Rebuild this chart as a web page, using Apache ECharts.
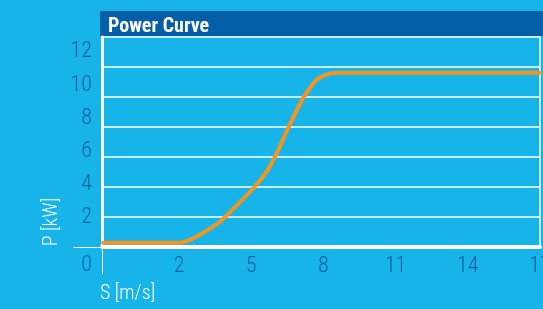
<!DOCTYPE html>
<html>
<head>
<meta charset="utf-8">
<script src="https://cdn.jsdelivr.net/npm/echarts@6/dist/echarts.min.js"></script>
<style>
  html, body { margin: 0; padding: 0; background: #17b4e9; }
  #chart { width: 543px; height: 309px; }
</style>
</head>
<body>
<div id="chart"></div>
<script>
// wind speed (m/s) and power (kW)
var windSpeed = [-1.15, 2.0, 2.5, 3.0, 3.7, 4.4, 5.1, 5.7, 6.1, 6.5, 7.15, 7.7, 8.15, 8.6, 17.1];
var power     = [0.5, 0.5, 0.7, 1.1, 1.75, 2.75, 3.8, 4.9, 6.0, 7.3, 9.2, 10.3, 10.65, 10.75, 10.75];
var xTicks = [2, 5, 8, 11, 14, 17];
var yTicks = [2, 4, 6, 8, 10, 12];

var font = "'Liberation Sans Narrow', 'Roboto Condensed', Roboto, sans-serif";
var labelColor = '#0b5fa7';

var chart = echarts.init(document.getElementById('chart'));

var curve = [];
for (var i = 0; i < windSpeed.length; i++) {
    curve.push([windSpeed[i], power[i]]);
}

chart.setOption({
    backgroundColor: '#17b4e9',
    animation: false,
    title: {
        text: 'Power Curve',
        left: 103,
        top: 12,
        textStyle: { color: '#fff', fontSize: 20, fontWeight: 'bold', fontFamily: font }
    },
    graphic: [
        { type: 'rect', z: -1, shape: { x: 100, y: 11, width: 443, height: 25 }, style: { fill: '#045ea8' } },
        { type: 'text', style: { x: 92, y: 265, text: '0', align: 'right', verticalAlign: 'middle',
            fill: labelColor, font: '300 22px ' + font } },
        { type: 'text', rotation: Math.PI / 2, x: 52, y: 222,
            style: { text: 'P [kW]', align: 'center', verticalAlign: 'middle', fill: '#fff', font: '300 20px ' + font } },
        { type: 'text', style: { x: 100, y: 294, text: 'S [m/s]', align: 'left', verticalAlign: 'middle',
            fill: '#fff', font: '300 20px ' + font } }
    ],
    grid: { left: 102, right: 3, top: 37, bottom: 62, containLabel: false, outerBoundsMode: 'none' },
    xAxis: {
        type: 'value',
        min: -1.2,
        max: 17,
        splitLine: { show: false },
        axisLine: { onZero: false, lineStyle: { color: '#fff', width: 4 } },
        axisTick: { show: true, customValues: [-1.2], length: 27, lineStyle: { color: '#fff', width: 1 } },
        axisLabel: { customValues: xTicks, color: labelColor, fontSize: 22, fontWeight: 300, fontFamily: font, margin: 8 }
    },
    yAxis: [{
        type: 'value',
        min: 0.24,
        max: 12.9,
        splitLine: { show: false },
        axisLine: { show: true, onZero: false, lineStyle: { color: '#fff', width: 3 } },
        axisTick: { show: true, customValues: [0.24], length: 29, lineStyle: { color: '#fff', width: 1 } },
        axisLabel: { customValues: yTicks, color: labelColor, fontSize: 22, fontWeight: 300, fontFamily: font, margin: 10 }
    }, {
        type: 'value',
        position: 'right',
        min: 0,
        max: 7,
        interval: 1,
        axisLabel: { show: false },
        axisTick: { show: false },
        axisLine: { show: true, onZero: false, lineStyle: { color: '#fff', width: 1.5 } },
        splitLine: { show: true, lineStyle: { color: '#fff', width: 1.5 } }
    }],
    series: [{
        name: 'Power',
        type: 'line',
        data: curve,
        smooth: 0.2,
        symbol: 'none',
        clip: false,
        lineStyle: { color: '#f7941d', width: 4, cap: 'round' },
        z: 5
    }]
});
</script>
</body>
</html>
